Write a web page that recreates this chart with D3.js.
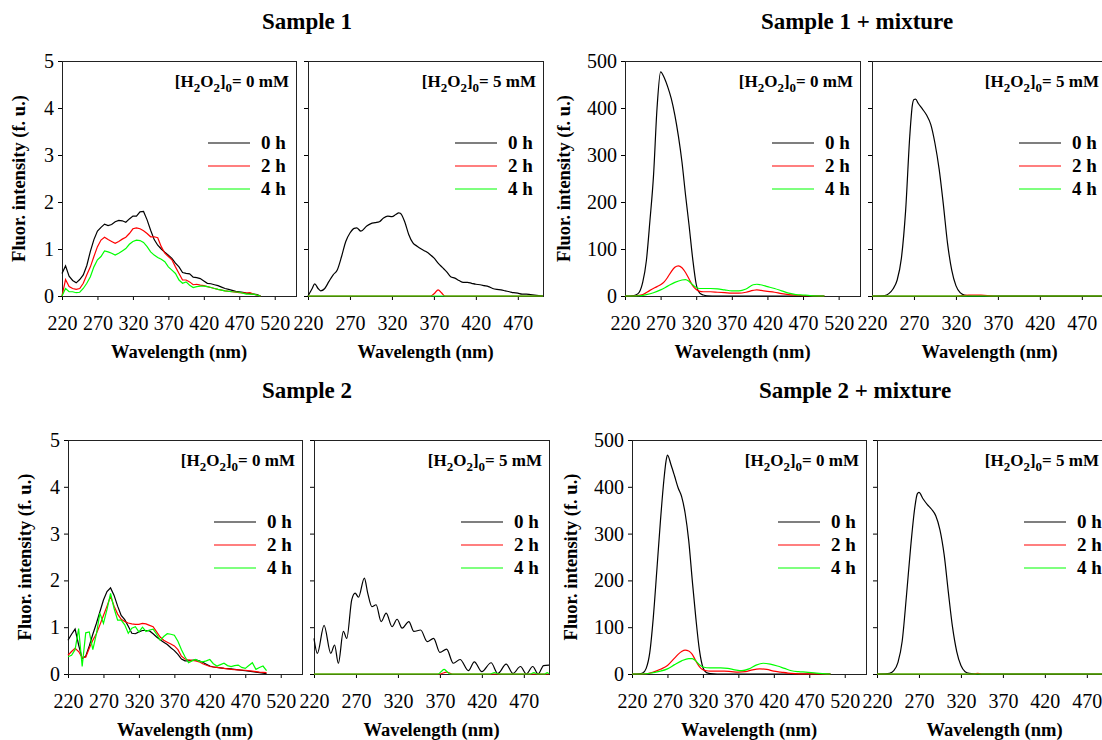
<!DOCTYPE html>
<meta charset="utf-8">
<style>
body { margin: 0; background: #fff; }
svg, svg text { font-family: "Liberation Serif", "Times New Roman", Times, serif; fill: #000; }
.tick text { font-size: 20px; }
.tick line { stroke: #000; }
.frame { fill: none; stroke: #222; stroke-width: 1; }
.title { font-size: 23px; font-weight: bold; }
.lab { font-size: 18.5px; font-weight: bold; }
.ann { font-size: 17px; font-weight: bold; }
.leg { font-size: 19px; font-weight: bold; }
</style>
<body>
<script src="https://cdn.jsdelivr.net/npm/d3@7"></script>
<script>

var width = 1102,
    height = 740,
    serif = "'Liberation Serif', 'Times New Roman', Times, serif";

// tick labels
var xTicksWide = [220, 270, 320, 370, 420, 470, 520],
    xTicksNarrow = [220, 270, 320, 370, 420, 470],
    yTicksLow = [0, 1, 2, 3, 4, 5],
    yTicksHigh = [0, 100, 200, 300, 400, 500];

var hours = ["0 h", "2 h", "4 h"],
    colors = ["#000000", "#ff0000", "#00ff00"];

// Sample 1, [H2O2]0 = 0 mM  ([nm, f.u.])
var s1_0mM_0h = [[220,0.48],[225,0.64],[230,0.42],[235,0.33],[240,0.28],[245,0.35],[250,0.45],[255,0.65],[260,0.95],[265,1.2],[270,1.38],[275,1.46],[280,1.53],[285,1.5],[290,1.52],[295,1.58],[300,1.61],[305,1.6],[310,1.57],[315,1.64],[320,1.7],[325,1.7],[330,1.79],[335,1.8],[340,1.62],[345,1.4],[350,1.2],[355,1.08],[360,1.0],[365,0.93],[370,0.87],[375,0.8],[380,0.7],[385,0.62],[390,0.5],[395,0.48],[400,0.47],[405,0.4],[410,0.39],[415,0.37],[420,0.32],[425,0.27],[430,0.26],[435,0.24],[440,0.22],[445,0.19],[450,0.16],[455,0.14],[460,0.12],[465,0.1],[470,0.09],[475,0.08],[480,0.06],[485,0.05],[490,0.04],[495,0.03],[500,0]];
var s1_0mM_2h = [[220,0],[225,0.35],[230,0.2],[235,0.16],[240,0.14],[245,0.16],[250,0.27],[255,0.45],[260,0.62],[265,0.84],[270,1.05],[275,1.19],[280,1.25],[285,1.2],[290,1.16],[295,1.12],[300,1.16],[305,1.21],[310,1.25],[315,1.33],[320,1.43],[325,1.45],[330,1.43],[335,1.39],[340,1.33],[345,1.26],[350,1.26],[355,1.24],[360,1.05],[365,0.91],[370,0.84],[375,0.77],[380,0.62],[385,0.48],[390,0.34],[395,0.34],[400,0.3],[405,0.24],[410,0.25],[415,0.23],[420,0.22],[425,0.2],[430,0.18],[435,0.16],[440,0.14],[450,0.11],[460,0.09],[470,0.07],[480,0.06],[485,0.07],[490,0.04],[500,0]];
var s1_0mM_4h = [[220,0],[225,0.16],[230,0.09],[235,0.09],[240,0.07],[245,0.08],[250,0.16],[255,0.27],[260,0.41],[265,0.62],[270,0.77],[275,0.84],[280,0.96],[285,0.94],[290,0.91],[295,0.87],[300,0.91],[305,0.96],[310,1.01],[315,1.1],[320,1.16],[325,1.19],[330,1.18],[335,1.14],[340,1.05],[345,0.94],[350,0.87],[355,0.82],[360,0.78],[365,0.73],[370,0.62],[375,0.55],[380,0.48],[385,0.34],[390,0.27],[395,0.3],[400,0.23],[405,0.18],[410,0.2],[415,0.21],[420,0.21],[425,0.2],[430,0.18],[435,0.16],[440,0.14],[450,0.11],[460,0.09],[470,0.08],[480,0.04],[490,0.04],[500,0]];

// Sample 1, [H2O2]0 = 5 mM
var s1_5mM_0h = [[220,0],[225,0.16],[228,0.26],[232,0.16],[235,0.11],[240,0.16],[245,0.31],[250,0.45],[255,0.56],[260,0.84],[265,1.16],[270,1.34],[275,1.44],[278,1.45],[283,1.38],[290,1.49],[295,1.54],[300,1.56],[305,1.58],[310,1.66],[315,1.7],[320,1.69],[325,1.74],[328,1.77],[330,1.76],[335,1.59],[340,1.31],[345,1.13],[350,1.06],[355,1.0],[360,0.95],[365,0.89],[370,0.81],[375,0.7],[380,0.61],[385,0.52],[390,0.41],[395,0.38],[400,0.33],[405,0.29],[410,0.29],[415,0.27],[420,0.25],[425,0.24],[430,0.22],[435,0.2],[440,0.16],[445,0.14],[450,0.13],[455,0.11],[460,0.09],[465,0.07],[470,0.06],[475,0.04],[480,0.04],[485,0.03],[490,0.02],[495,0.01],[500,0]];
var s1_5mM_2h = [[220,0],[366,0],[371,0.06],[375,0.13],[379,0.07],[383,0],[500,0]];
var s1_5mM_4h = [[220,0],[500,0]];

// Sample 1 + mixture, [H2O2]0 = 0 mM
var s1m_0mM_0h = [[220,0],[230,0.5],[235,2],[240,8],[245,30],[250,75],[255,160],[260,255],[265,400],[270,477],[275,465],[280,445],[285,420],[290,385],[295,340],[300,285],[305,215],[310,150],[315,80],[320,25],[325,6],[330,2],[335,0.5],[350,0],[500,0]];
var s1m_0mM_2h = [[220,0],[235,0.5],[245,3],[255,12],[265,20],[270,24],[275,30],[280,40],[285,52],[290,61],[295,64],[300,60],[305,50],[310,36],[315,22],[320,14],[325,10],[330,9],[340,9],[350,8],[360,7],[370,6],[380,6],[390,8],[400,12],[405,13],[410,12],[420,10],[430,8],[440,5],[450,3],[460,2],[470,1],[480,0.5],[500,0]];
var s1m_0mM_4h = [[220,0],[240,0.5],[250,3],[260,7],[270,13],[280,21],[290,29],[300,34],[305,35],[310,31],[315,24],[320,18],[325,16],[340,16],[350,15],[360,13],[370,11],[380,11],[390,15],[400,24],[405,25],[410,24],[420,20],[430,16],[440,11],[450,6],[460,3],[470,2],[480,1],[500,0]];

// Sample 1 + mixture, [H2O2]0 = 5 mM
var s1m_5mM_0h = [[220,0],[235,1],[240,5],[245,15],[250,34],[255,80],[260,180],[265,340],[268,405],[270,418],[272,419],[275,410],[280,398],[285,385],[290,365],[295,325],[300,270],[305,195],[310,112],[315,55],[320,22],[325,7],[330,2],[340,0],[500,0]];
var s1m_5mM_2h = [[220,0],[320,0],[335,2],[350,2],[365,0],[500,0]];
var s1m_5mM_4h = [[220,0],[500,0]];

// Sample 2, [H2O2]0 = 0 mM
var s2_0mM_0h = [[220,0.72],[225,0.85],[230,0.96],[235,0.62],[240,0.33],[245,0.38],[250,0.6],[255,0.85],[260,1.08],[265,1.33],[270,1.58],[275,1.76],[280,1.84],[285,1.68],[290,1.45],[295,1.25],[300,1.16],[305,1.02],[310,0.87],[315,0.86],[320,0.9],[325,0.93],[330,0.93],[335,0.92],[340,0.86],[345,0.79],[350,0.73],[355,0.68],[360,0.63],[365,0.56],[370,0.5],[375,0.42],[380,0.32],[385,0.28],[390,0.28],[395,0.29],[400,0.3],[405,0.28],[410,0.25],[415,0.21],[420,0.17],[425,0.15],[430,0.14],[440,0.12],[450,0.11],[460,0.09],[470,0.07],[480,0.05],[490,0.03],[500,0.01]];
var s2_0mM_2h = [[220,0.4],[225,0.48],[230,0.55],[235,0.48],[240,0.35],[245,0.36],[250,0.55],[255,0.72],[260,0.86],[265,1.05],[270,1.25],[275,1.45],[280,1.66],[285,1.45],[290,1.28],[295,1.17],[300,1.12],[305,1.09],[310,1.07],[315,1.06],[320,1.06],[325,1.08],[330,1.07],[335,1.04],[340,1.01],[345,0.9],[350,0.79],[355,0.72],[360,0.68],[365,0.64],[370,0.6],[375,0.52],[380,0.38],[385,0.32],[390,0.3],[400,0.28],[405,0.26],[410,0.22],[420,0.16],[430,0.14],[440,0.12],[450,0.1],[460,0.09],[470,0.08],[480,0.06],[490,0.04],[500,0.03]];
var s2_0mM_4h = [[220,0.37],[225,0.4],[230,0.52],[235,0.97],[240,0.16],[245,0.88],[250,0.9],[255,0.52],[260,0.85],[265,1.3],[270,1.08],[275,1.38],[280,1.72],[285,1.4],[290,1.15],[295,1.15],[300,1.05],[305,0.87],[310,0.98],[315,1.01],[320,0.9],[325,1.0],[330,0.91],[335,0.94],[340,0.96],[345,0.85],[350,0.72],[355,0.8],[360,0.86],[365,0.85],[370,0.83],[375,0.7],[380,0.52],[385,0.37],[390,0.24],[395,0.28],[400,0.31],[405,0.27],[410,0.26],[415,0.28],[420,0.31],[425,0.22],[430,0.17],[435,0.2],[440,0.23],[445,0.18],[450,0.16],[455,0.18],[460,0.19],[465,0.14],[470,0.12],[475,0.18],[480,0.24],[485,0.1],[490,0.14],[495,0.17],[500,0.07]];

// Sample 2, [H2O2]0 = 5 mM
var s2_5mM_0h = [[220,0.76],[224,0.44],[232,1.04],[240,0.44],[244.5,0.62],[249,0.23],[255,0.91],[259,0.76],[265,1.59],[269,1.73],[273,1.64],[280,2.05],[284,1.73],[289,1.44],[294,1.48],[300,1.12],[306,1.3],[313,1.01],[319,1.17],[325,0.98],[333,1.12],[339,0.91],[347,0.94],[355,0.69],[362.5,0.76],[370,0.46],[378,0.53],[386,0.23],[394,0.31],[404,0.07],[411,0.26],[420,0.05],[431,0.24],[439,0.01],[449,0.21],[457,0.01],[466,0.16],[473,0],[480.6,0.16],[487,0],[493.6,0.18],[500,0.19]];
var s2_5mM_2h = [[220,0],[370,0],[378,0.04],[385,0],[500,0]];
var s2_5mM_4h = [[220,0],[368,0],[372,0.06],[375,0.1],[378,0.06],[382,0],[430,0],[435,0.03],[440,0],[478,0],[482,0.03],[486,0],[495,0],[498,0.03],[500,0]];

// Sample 2 + mixture, [H2O2]0 = 0 mM
var s2m_0mM_0h = [[220,0],[230,0.5],[235,2],[240,12],[245,45],[250,120],[255,221],[260,325],[265,415],[268,455],[270,468],[275,447],[280,423],[285,398],[290,379],[295,343],[300,285],[305,200],[310,120],[315,52],[320,14],[325,3],[330,1],[340,0],[500,0]];
var s2m_0mM_2h = [[220,0],[240,0.5],[250,4],[260,10],[270,18],[280,34],[285,42],[290,48],[295,51],[300,49],[305,42],[310,28],[315,16],[320,9],[325,7],[330,6],[350,6],[360,5],[370,4],[380,5],[390,9],[400,11],[410,10],[420,6],[430,4],[440,2],[450,1],[470,0.3],[500,0]];
var s2m_0mM_4h = [[220,0],[240,0.5],[250,3],[260,6],[270,11],[280,20],[290,28],[300,33],[305,33],[310,28],[315,20],[320,15],[330,13],[345,13],[355,12],[365,9],[375,7],[385,11],[395,19],[405,23],[415,21],[425,17],[435,12],[445,7],[455,5],[465,4],[480,2],[500,0]];

// Sample 2 + mixture, [H2O2]0 = 5 mM
var s2m_5mM_0h = [[220,0],[230,0.3],[235,1.5],[240,7],[245,25],[250,70],[255,165],[260,269],[265,355],[268,385],[270,388],[275,374],[280,362],[285,352],[290,338],[295,308],[300,255],[305,175],[310,100],[315,48],[320,18],[325,5],[330,1.5],[340,0],[500,0]];
var s2m_5mM_2h = [[220,0],[336,0],[340,1.5],[344,0],[500,0]];
var s2m_5mM_4h = [[220,0],[500,0]];

var titles = [
  {text: "Sample 1", x: 307, y: 29},
  {text: "Sample 1 + mixture", x: 857, y: 29},
  {text: "Sample 2", x: 307, y: 398},
  {text: "Sample 2 + mixture", x: 855, y: 398}
];

var panels = [
  {x0: 62,  x1: 296,  y0: 61,  y1: 296, xmax: 550, ymax: 5,   conc: "0", labels: true,  smooth: false, series: [s1_0mM_0h, s1_0mM_2h, s1_0mM_4h]},
  {x0: 308, x1: 543,  y0: 61,  y1: 296, xmax: 500, ymax: 5,   conc: "5", labels: false, smooth: true,  series: [s1_5mM_0h, s1_5mM_2h, s1_5mM_4h]},
  {x0: 625, x1: 860,  y0: 61,  y1: 296, xmax: 550, ymax: 500, conc: "0", labels: true,  smooth: true,  series: [s1m_0mM_0h, s1m_0mM_2h, s1m_0mM_4h]},
  {x0: 872, x1: 1107, y0: 61,  y1: 296, xmax: 500, ymax: 500, conc: "5", labels: false, smooth: true,  series: [s1m_5mM_0h, s1m_5mM_2h, s1m_5mM_4h]},
  {x0: 68,  x1: 302,  y0: 440, y1: 674, xmax: 550, ymax: 5,   conc: "0", labels: true,  smooth: false, series: [s2_0mM_0h, s2_0mM_2h, s2_0mM_4h]},
  {x0: 314, x1: 549,  y0: 440, y1: 674, xmax: 500, ymax: 5,   conc: "5", labels: false, smooth: true,  series: [s2_5mM_0h, s2_5mM_2h, s2_5mM_4h]},
  {x0: 632, x1: 866,  y0: 440, y1: 674, xmax: 550, ymax: 500, conc: "0", labels: true,  smooth: true,  series: [s2m_0mM_0h, s2m_0mM_2h, s2m_0mM_4h]},
  {x0: 877, x1: 1112, y0: 440, y1: 674, xmax: 500, ymax: 500, conc: "5", labels: false, smooth: true,  series: [s2m_5mM_0h, s2m_5mM_2h, s2m_5mM_4h]}
];

var svg = d3.select("body").append("svg")
    .attr("width", width)
    .attr("height", height)
    .attr("font-family", serif);

svg.selectAll(".title")
    .data(titles)
  .enter().append("text")
    .attr("class", "title")
    .attr("font-family", serif)
    .attr("x", function(d) { return d.x; })
    .attr("y", function(d) { return d.y; })
    .attr("text-anchor", "middle")
    .text(function(d) { return d.text; });

panels.forEach(function(p) {
  var x = d3.scaleLinear().domain([220, p.xmax]).range([p.x0, p.x1]),
      y = d3.scaleLinear().domain([0, p.ymax]).range([p.y1, p.y0]);

  var g = svg.append("g");

  var xAxis = d3.axisBottom(x)
      .tickValues(p.xmax > 500 ? xTicksWide : xTicksNarrow)
      .tickFormat(d3.format("d"))
      .tickSize(4)
      .tickPadding(16);

  var yAxis = d3.axisLeft(y)
      .tickValues(p.ymax > 5 ? yTicksHigh : yTicksLow)
      .tickFormat(p.labels ? d3.format("d") : "")
      .tickSize(4)
      .tickPadding(4);

  g.append("g")
      .attr("transform", "translate(0," + p.y1 + ")")
      .call(xAxis)
      .attr("font-family", serif)
      .attr("font-size", 20)
      .call(function(a) { a.select(".domain").remove(); });

  g.append("g")
      .attr("transform", "translate(" + p.x0 + ",0)")
      .call(yAxis)
      .attr("font-family", serif)
      .attr("font-size", 20)
      .call(function(a) { a.select(".domain").remove(); });

  g.append("rect")
      .attr("class", "frame")
      .attr("x", p.x0 + 0.5)
      .attr("y", p.y0 + 0.5)
      .attr("width", p.x1 - p.x0)
      .attr("height", p.y1 - p.y0);

  var line = d3.line()
      .x(function(d) { return x(d[0]); })
      .y(function(d) { return y(d[1]); })
      .curve(p.smooth ? d3.curveMonotoneX : d3.curveLinear);

  g.selectAll(".series")
      .data(p.series)
    .enter().append("path")
      .attr("fill", "none")
      .attr("stroke", function(d, i) { return colors[i]; })
      .attr("stroke-width", 1.2)
      .attr("d", line);

  // [H2O2]0 label, kept inside the picture
  var ann = g.append("text")
      .attr("class", "ann")
      .attr("font-family", serif)
      .attr("x", Math.min(p.x1 - 7, width - 3))
      .attr("y", p.y0 + 26)
      .attr("text-anchor", "end");
  ann.append("tspan").text("[H");
  ann.append("tspan").attr("dy", 5).attr("font-size", 13).text("2");
  ann.append("tspan").attr("dy", -5).text("O");
  ann.append("tspan").attr("dy", 5).attr("font-size", 13).text("2");
  ann.append("tspan").attr("dy", -5).text("]");
  ann.append("tspan").attr("dy", 5).attr("font-size", 13).text("0");
  ann.append("tspan").attr("dy", -5).text("= " + p.conc + " mM");

  // legend
  hours.forEach(function(h, i) {
    var ly = p.y0 + 82 + i * 23;
    g.append("line")
        .attr("x1", p.x1 - 88)
        .attr("x2", p.x1 - 46)
        .attr("y1", ly)
        .attr("y2", ly)
        .attr("stroke", colors[i])
        .attr("stroke-width", 1.2);
    g.append("text")
        .attr("class", "leg")
        .attr("font-family", serif)
        .attr("x", p.x1 - 35)
        .attr("y", ly + 6)
        .text(h);
  });

  g.append("text")
      .attr("class", "lab")
      .attr("font-family", serif)
      .attr("x", (p.x0 + p.x1) / 2)
      .attr("y", p.y1 + 62)
      .attr("text-anchor", "middle")
      .text("Wavelength (nm)");

  if (p.labels) {
    var lx = p.x0 - (p.ymax > 5 ? 55 : 37),
        ly = (p.y0 + p.y1) / 2;
    g.append("text")
        .attr("class", "lab")
        .attr("font-family", serif)
        .attr("transform", "translate(" + lx + "," + ly + ")rotate(-90)")
        .attr("text-anchor", "middle")
        .text("Fluor. intensity (f. u.)");
  }
});

</script>
